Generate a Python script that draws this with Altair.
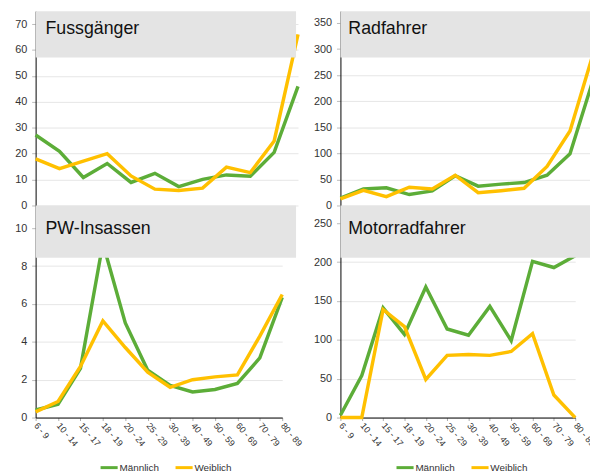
import altair as alt
import pandas as pd

ages = ["6 - 9", "10 - 14", "15 - 17", "18 - 19", "20 - 24", "25 - 29",
        "30 - 39", "40 - 49", "50 - 59", "60 - 69", "70 - 79", "80 - 89"]
series = ["Männlich", "Weiblich"]
colors = ["#5CAD38", "#FFC000"]

fuss_m = [27.2, 20.9, 10.8, 16.2, 8.9, 12.4, 7.3, 10.1, 11.8, 11.3, 20.5, 46]
fuss_w = [18.0, 14.2, 17.1, 20.0, 11.4, 6.3, 5.8, 6.7, 14.8, 12.7, 24.9, 66]
rad_m = [14, 31.5, 34, 21, 28, 57, 37, 41, 44, 58, 99, 240]
rad_w = [12.6, 29, 17, 35, 31.5, 58, 24.6, 28.4, 33, 75, 143, 290]
pw_m = [0.4, 0.7, 2.6, 9.2, 5.0, 2.5, 1.7, 1.35, 1.48, 1.8, 3.15, 6.35]
pw_w = [0.3, 0.85, 2.7, 5.1, 3.7, 2.4, 1.6, 2.0, 2.15, 2.25, 4.3, 6.5]
moto_m = [3, 54, 141, 107, 168, 114, 106, 143, 99, 201, 193, 208]
moto_w = [0, 0, 139, 117, 49, 80, 81, 80, 85, 108, 29, 0]

titles = ["Fussgänger", "Radfahrer", "PW-Insassen", "Motorradfahrer"]
yticks_fuss = [0, 10, 20, 30, 40, 50, 60, 70]
yticks_rad = [0, 50, 100, 150, 200, 250, 300, 350]
yticks_pw = [0, 2, 4, 6, 8, 10]
yticks_moto = [0, 50, 100, 150, 200, 250]

FONT = "Liberation Sans"


def panel(title, m, w, ymax, yticks, width, height, boxw, boxh, tx, ty,
          bottom, legx=None):
    df = pd.DataFrame({
        "Alter": ages * 2,
        "Geschlecht": [series[0]] * len(ages) + [series[1]] * len(ages),
        "Wert": list(m) + list(w),
    })
    if bottom:
        xaxis = alt.Axis(title=None, labelAngle=50, labelAlign="left",
                         labelBaseline="middle", labelFontSize=9,
                         labelPadding=3, tickSize=3, tickColor="#AAAAAA",
                         domainColor="black", labelColor="#333333",
                         grid=False)
        legend = alt.Legend(orient="none", legendX=legx, legendY=255,
                            direction="horizontal", title=None,
                            symbolType="stroke", symbolStrokeWidth=3,
                            symbolSize=300, labelFontSize=10, labelOffset=0,
                            columnPadding=9, labelColor="#333333",
                            labelFont=FONT)
    else:
        xaxis = None
        legend = None
    lines = alt.Chart(df).mark_line(strokeWidth=3.5).encode(
        x=alt.X("Alter:N", sort=ages,
                scale=alt.Scale(type="point", padding=0, domain=ages),
                axis=xaxis),
        y=alt.Y("Wert:Q", scale=alt.Scale(domain=[0, ymax], nice=False),
                axis=alt.Axis(title=None, values=yticks, grid=True,
                              gridColor="#E6E6E6", domainColor="black",
                              tickColor="#BBBBBB", tickSize=4,
                              labelPadding=5, labelFontSize=11,
                              labelColor="#333333")),
        color=alt.Color("Geschlecht:N",
                        scale=alt.Scale(domain=series, range=colors),
                        legend=legend),
    )
    one = pd.DataFrame({"t": [title]})
    box = alt.Chart(one).mark_rect(color="#E4E4E4").encode(
        x=alt.value(0), x2=alt.value(boxw), y=alt.value(0), y2=alt.value(boxh)
    )
    txt = alt.Chart(one).mark_text(align="left", baseline="alphabetic",
                                   fontSize=18, font=FONT,
                                   color="#111111").encode(
        x=alt.value(tx), y=alt.value(ty), text="t:N"
    )
    return alt.layer(lines, box, txt).properties(width=width, height=height)


tl = panel(titles[0], fuss_m, fuss_w, 75, yticks_fuss, 266, 197, 264, 47,
           10, 23, False)
tr = panel(titles[1], rad_m, rad_w, 372.7, yticks_rad, 256, 197, 270, 47,
           8, 23, False)
bl = panel(titles[2], pw_m, pw_w, 11.2, yticks_pw, 250, 215, 264, 53,
           10, 29, True, 64)
br = panel(titles[3], moto_m, moto_w, 272.8, yticks_moto, 238, 215, 270, 53,
           8, 29, True, 55)

chart = alt.concat(tl, tr, bl, br, columns=2,
                   spacing={"row": 0, "column": 43}, bounds="flush")
chart = chart.resolve_scale(color="independent", x="independent",
                            y="independent")
chart = chart.resolve_legend(color="independent")
chart = chart.properties(
    autosize=alt.AutoSizeParams(type="none"),
    padding={"left": 28, "top": 0, "right": 562, "bottom": 465},
)
chart = chart.configure_view(stroke=None).configure_axis(labelFont=FONT)

chart.save("out.html", embed_options={"renderer": "svg", "actions": False})
